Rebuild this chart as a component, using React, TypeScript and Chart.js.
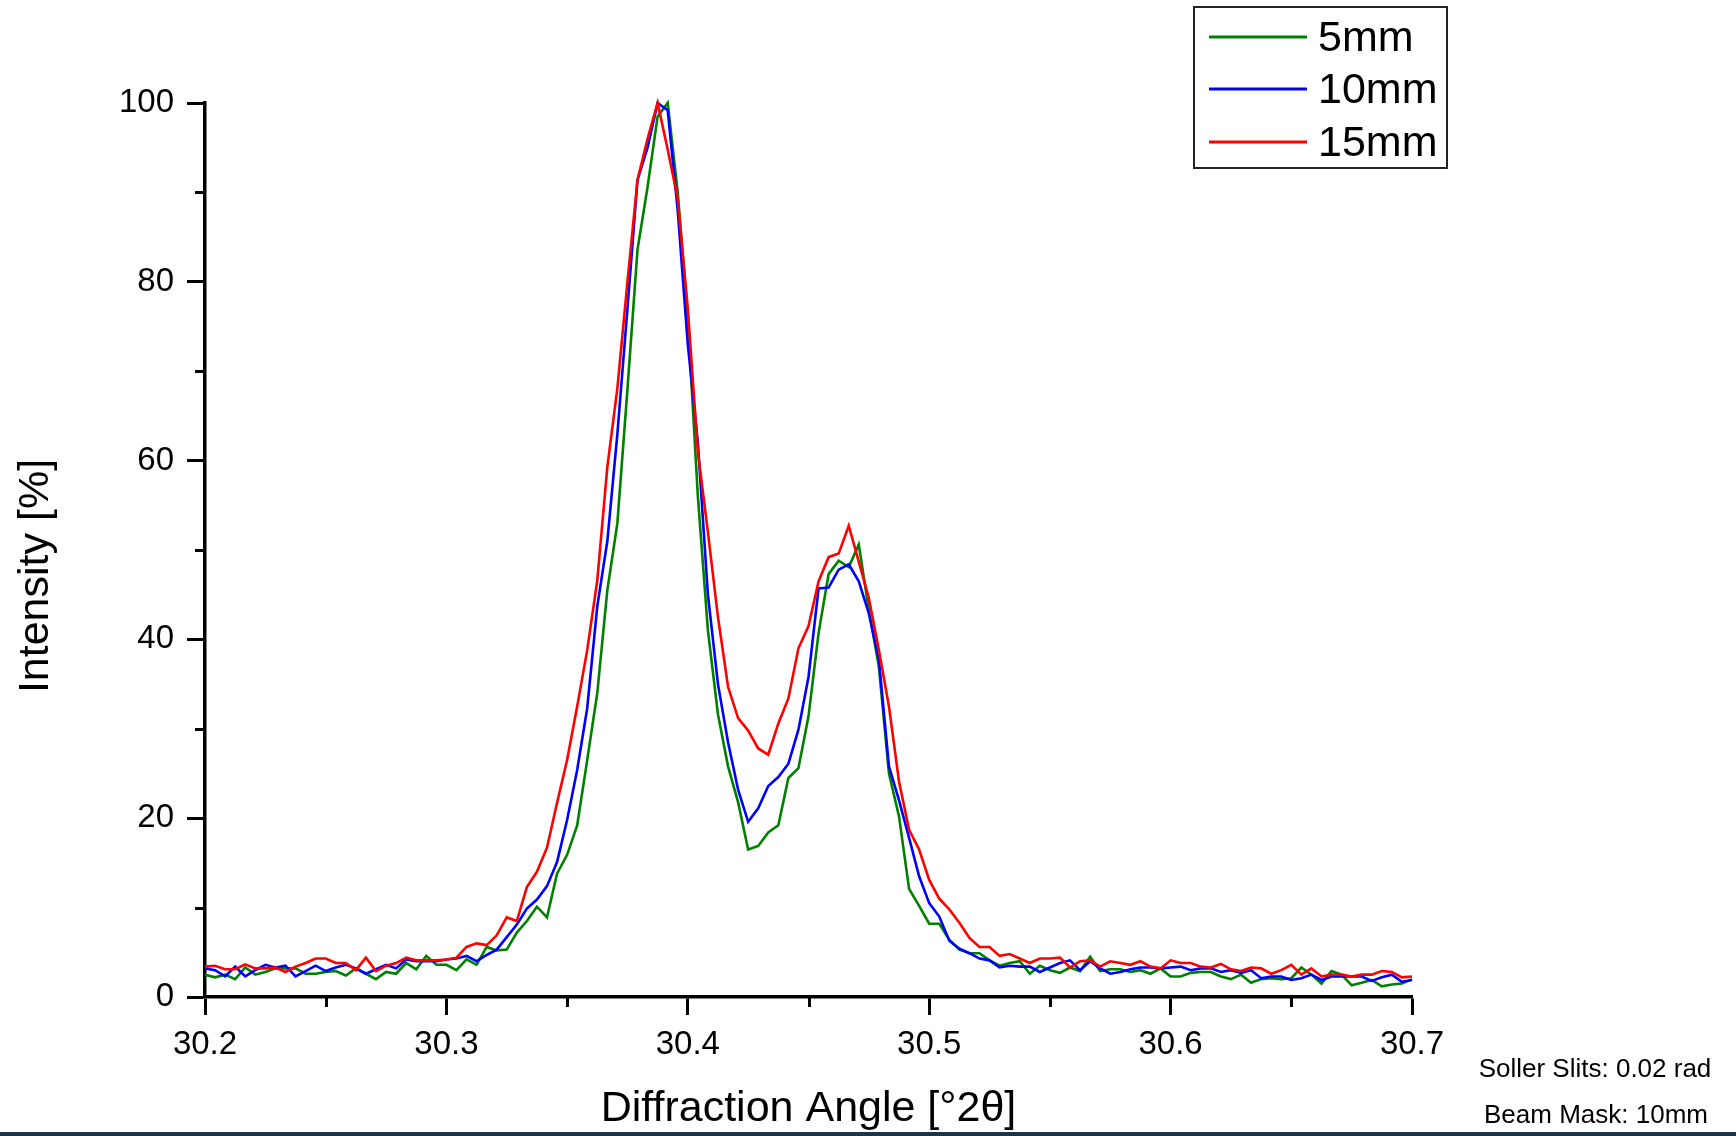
import { useEffect, useRef } from "react";
import { Chart, registerables } from "chart.js";

Chart.register(...registerables);

// Scan grid: 30.2 .. 30.7 °2θ, constant step
const scanStart = 30.2;
const scanStep = 0.5 / 120;
const pointCount = 121;
const angles = Array.from({ length: pointCount }, (_, i) => Number((scanStart + i * scanStep).toFixed(5)));

const series5mm = [
  2.5, 2.2, 2.5, 2.0, 3.3, 2.5, 2.8, 3.2, 3.2, 3.2,
  2.6, 2.6, 2.8, 2.9, 2.4, 3.2, 2.6, 2.0, 2.8, 2.6,
  3.8, 3.1, 4.6, 3.6, 3.6, 3.0, 4.2, 3.6, 5.6, 5.2,
  5.3, 7.2, 8.5, 10.1, 8.9, 13.8, 15.9, 19.2, 26.5, 34.0,
  45.5, 53.0, 68.0, 83.6, 90.6, 98.5, 100.0, 90.0, 76.0, 56.0,
  41.0, 31.6, 25.8, 21.8, 16.5, 16.9, 18.4, 19.2, 24.5, 25.6,
  31.4, 40.7, 47.3, 48.8, 48.1, 50.6, 43.3, 36.9, 25.0, 20.2,
  12.1, 10.2, 8.2, 8.2, 6.4, 5.3, 4.9, 4.9, 4.1, 3.5,
  3.8, 4.0, 2.6, 3.5, 3.0, 2.7, 3.3, 2.9, 4.5, 2.9,
  3.1, 3.1, 2.8, 3.0, 2.6, 3.2, 2.3, 2.3, 2.7, 2.8,
  2.8, 2.3, 2.0, 2.5, 1.6, 2.0, 2.1, 2.0, 2.1, 3.3,
  2.5, 1.5, 2.9, 2.5, 1.3, 1.6, 1.9, 1.2, 1.4, 1.5,
  2.0,
];

const series10mm = [
  3.2, 3.0, 2.3, 3.4, 2.3, 3.0, 3.6, 3.3, 3.5, 2.3,
  2.9, 3.5, 2.9, 3.3, 3.6, 3.2, 2.6, 3.1, 3.6, 3.2,
  4.2, 4.0, 4.0, 4.0, 4.2, 4.3, 4.6, 4.0, 4.7, 5.3,
  6.7, 8.1, 9.9, 10.9, 12.4, 15.1, 19.8, 25.4, 32.3, 43.7,
  51.0, 63.0, 77.0, 91.4, 95.0, 100.0, 99.2, 88.0, 73.0, 62.0,
  45.0, 35.0, 28.5, 23.2, 19.6, 21.1, 23.6, 24.6, 26.1, 29.9,
  35.8, 45.7, 45.8, 47.8, 48.4, 46.5, 42.9, 37.7, 25.8, 22.0,
  17.8, 13.5, 10.5, 9.0, 6.3, 5.4, 4.9, 4.3, 4.1, 3.3,
  3.5, 3.4, 3.4, 2.8, 3.3, 3.8, 4.1, 3.0, 4.0, 3.2,
  2.6, 2.8, 3.1, 3.3, 3.3, 3.2, 3.3, 3.4, 3.0, 3.2,
  3.2, 2.8, 3.0, 2.7, 3.0, 2.1, 2.3, 2.3, 1.9, 2.1,
  2.5, 1.9, 2.3, 2.3, 2.3, 2.3, 1.8, 2.2, 2.5, 1.7,
  1.9,
];

const series15mm = [
  3.4, 3.5, 3.1, 3.1, 3.65, 3.2, 3.2, 3.3, 2.8, 3.4,
  3.8, 4.3, 4.3, 3.8, 3.8, 3.0, 4.4, 2.9, 3.5, 3.8,
  4.4, 4.1, 4.1, 4.1, 4.2, 4.4, 5.6, 6.0, 5.8, 6.9,
  8.9, 8.5, 12.3, 14.0, 16.7, 21.7, 26.5, 32.5, 38.8, 46.6,
  59.3, 68.1, 80.0, 91.4, 96.0, 100.0, 94.8, 89.3, 77.0, 61.0,
  52.0, 42.5, 34.7, 31.2, 29.8, 27.8, 27.1, 30.6, 33.4, 39.0,
  41.5, 46.5, 49.2, 49.6, 52.7, 48.7, 44.6, 38.8, 32.5, 24.1,
  18.7, 16.5, 13.1, 11.0, 9.8, 8.3, 6.6, 5.6, 5.6, 4.6,
  4.8, 4.3, 3.8, 4.3, 4.3, 4.4, 3.3, 4.0, 4.1, 3.4,
  4.0, 3.8, 3.6, 4.0, 3.4, 3.2, 4.1, 3.8, 3.8, 3.4,
  3.3, 3.7, 3.1, 2.9, 3.3, 3.2, 2.6, 3.0, 3.6, 2.5,
  3.2, 2.3, 2.5, 2.5, 2.3, 2.5, 2.5, 2.9, 2.8, 2.2,
  2.3,
];

const seriesLabels = ["5mm", "10mm", "15mm"];
const seriesColors = ["#008000", "#0000ff", "#ff0000"];
const seriesValues = [series5mm, series10mm, series15mm];
const seriesOrder = [2, 1, 0];

const xTickValues = [30.2, 30.25, 30.3, 30.35, 30.4, 30.45, 30.5, 30.55, 30.6, 30.65, 30.7];
const xMajorLabels = ["30.2", "30.3", "30.4", "30.5", "30.6", "30.7"];
const yTickValues = [0, 10, 20, 30, 40, 50, 60, 70, 80, 90, 100];
const yMajorLabels = ["0", "20", "40", "60", "80", "100"];

const xTitle = "Diffraction Angle [°2θ]";
const yTitle = "Intensity [%]";
const notes = ["Soller Slits: 0.02 rad", "Beam Mask: 10mm"];

const FONT = "'Liberation Sans', Arial, Helvetica, sans-serif";
const W = 1736;
const H = 1136;

const decorPlugin = {
  id: "decor",
  afterDraw(chart: any) {
    const { ctx, chartArea, scales } = chart;
    const xs = scales.x;
    const ys = scales.y;
    ctx.save();
    // minor ticks
    ctx.strokeStyle = "#000";
    ctx.lineWidth = 3;
    xTickValues.forEach((v, i) => {
      if (i % 2 === 1) {
        const px = Math.round(xs.getPixelForValue(v)) + 0.5;
        ctx.beginPath();
        ctx.moveTo(px, chartArea.bottom);
        ctx.lineTo(px, chartArea.bottom + 10);
        ctx.stroke();
      }
    });
    yTickValues.forEach((v, i) => {
      if (i % 2 === 1) {
        const py = Math.round(ys.getPixelForValue(v)) + 0.5;
        ctx.beginPath();
        ctx.moveTo(chartArea.left, py);
        ctx.lineTo(chartArea.left - 10, py);
        ctx.stroke();
      }
    });

    // axis titles
    ctx.fillStyle = "#000";
    ctx.font = `43px ${FONT}`;
    ctx.textAlign = "center";
    ctx.textBaseline = "middle";
    ctx.fillText(xTitle, (chartArea.left + chartArea.right) / 2, 1109);
    ctx.save();
    ctx.translate(36, 576);
    ctx.rotate(-Math.PI / 2);
    ctx.fillText(yTitle, 0, 0);
    ctx.restore();

    // legend
    ctx.strokeStyle = "#222";
    ctx.lineWidth = 2;
    ctx.strokeRect(1194, 7, 253, 161);
    const rows = [37, 89, 142];
    seriesLabels.forEach((lab, i) => {
      ctx.strokeStyle = seriesColors[i];
      ctx.lineWidth = 3;
      ctx.beginPath();
      ctx.moveTo(1209, rows[i]);
      ctx.lineTo(1307, rows[i]);
      ctx.stroke();
      ctx.fillStyle = "#000";
      ctx.font = `43px ${FONT}`;
      ctx.textAlign = "left";
      ctx.textBaseline = "middle";
      ctx.fillText(lab, 1318, rows[i] + 2);
    });

    // notes
    ctx.font = `26px ${FONT}`;
    ctx.textAlign = "center";
    ctx.textBaseline = "middle";
    ctx.fillStyle = "#000";
    ctx.fillText(notes[0], 1595, 1070);
    ctx.fillText(notes[1], 1596, 1116);

    // bottom band
    ctx.fillStyle = "#1d3447";
    ctx.fillRect(0, H - 4, W, 4);
    ctx.restore();
  },
};

export default function App() {
  const ref = useRef<HTMLCanvasElement | null>(null);
  useEffect(() => {
    if (!ref.current) return;
    const chart = new Chart(ref.current, {
      type: "line",
      data: {
        datasets: seriesValues.map((vals, s) => ({
          label: seriesLabels[s],
          data: angles.map((x, i) => ({ x, y: vals[i] })),
          borderColor: seriesColors[s],
          backgroundColor: seriesColors[s],
          borderWidth: 2.6,
          pointRadius: 0,
          tension: 0,
          fill: false,
          clip: false as any,
          order: seriesOrder[s],
        })),
      },
      options: {
        animation: false,
        responsive: false,
        devicePixelRatio: 1,
        layout: { padding: { left: 0, top: 103, right: W - 1412, bottom: 0 } },
        plugins: {
          legend: { display: false },
          tooltip: { enabled: false },
          title: { display: false },
        },
        scales: {
          x: {
            type: "linear",
            min: 30.2,
            max: 30.7,
            afterBuildTicks: (scale: any) => {
              scale.ticks = xTickValues.map((v) => ({ value: v }));
            },
            afterFit: (scale: any) => {
              scale.height = H - 997;
            },
            border: { display: true, color: "#000", width: 3.5 },
            grid: {
              display: true,
              drawOnChartArea: false,
              drawTicks: true,
              tickLength: 18,
              tickWidth: 3,
              tickColor: (c: any) => (c.index % 2 === 0 ? "#000" : "rgba(0,0,0,0)"),
            },
            ticks: {
              autoSkip: false,
              maxRotation: 0,
              padding: 10,
              color: "#000",
              font: { family: FONT, size: 33 },
              callback: (_v: any, index: number) => (index % 2 === 0 ? xMajorLabels[index / 2] : ""),
            },
          },
          y: {
            type: "linear",
            min: 0,
            max: 100,
            afterBuildTicks: (scale: any) => {
              scale.ticks = yTickValues.map((v) => ({ value: v }));
            },
            afterFit: (scale: any) => {
              scale.width = 205;
            },
            border: { display: true, color: "#000", width: 3.5 },
            grid: {
              display: true,
              drawOnChartArea: false,
              drawTicks: true,
              tickLength: 18,
              tickWidth: 3,
              tickColor: (c: any) => (c.index % 2 === 0 ? "#000" : "rgba(0,0,0,0)"),
            },
            ticks: {
              autoSkip: false,
              padding: 13,
              color: "#000",
              font: { family: FONT, size: 33 },
              callback: (_v: any, index: number) => (index % 2 === 0 ? yMajorLabels[index / 2] : ""),
            },
          },
        },
      },
      plugins: [decorPlugin],
    });
    return () => chart.destroy();
  }, []);

  return (
    <div style={{ position: "fixed", left: 0, top: 0, width: W, height: H, background: "#fff" }}>
      <canvas ref={ref} width={W} height={H} style={{ width: W, height: H, display: "block" }} />
    </div>
  );
}
